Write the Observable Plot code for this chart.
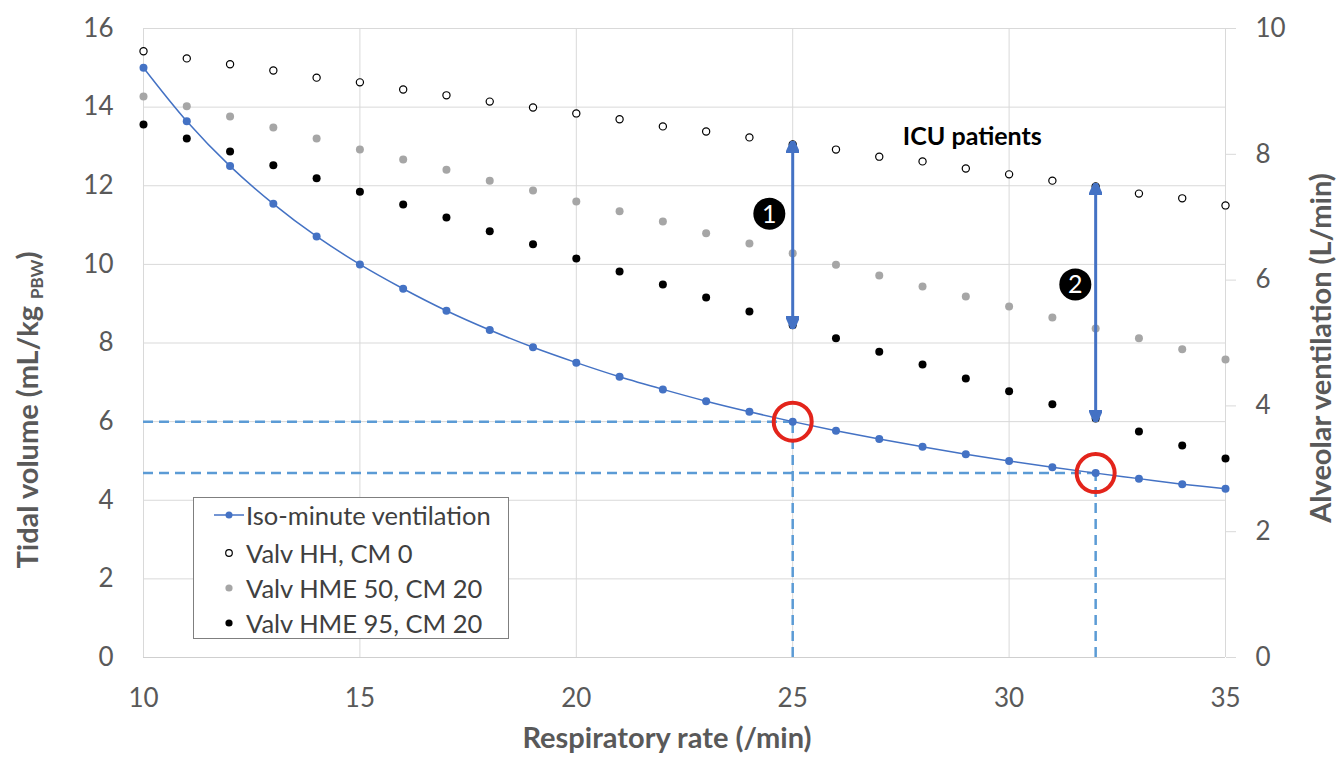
<!DOCTYPE html>
<html>
<head>
<meta charset="utf-8">
<script src="https://cdn.jsdelivr.net/npm/d3@7"></script>
<script src="https://cdn.jsdelivr.net/npm/@observablehq/plot@0.6"></script>
<style>
  body { margin: 0; background: #fff; font-family: Lato, sans-serif; }
  #wrap { position: relative; width: 1339px; height: 761px; }
  #legend { position: absolute; left: 193px; top: 497px; width: 316px; height: 142px;
            border: 1px solid #7f7f7f; background: #fff; box-sizing: border-box; }
  .row { position: absolute; left: 0; height: 30px; display: flex; align-items: center;
         font-size: 25.5px; color: #404040; white-space: nowrap; }
  .row svg { width: 52px; height: 30px; flex: none; }
</style>
</head>
<body>
<div id="wrap">
  <div id="legend"></div>
</div>
<script>
// ---- data ----
const respiratoryRate = [10,11,12,13,14,15,16,17,18,19,20,21,22,23,24,25,26,27,28,29,30,31,32,33,34,35];
const isoMinute = [15.00,13.64,12.50,11.54,10.71,10.00,9.38,8.82,8.33,7.89,7.50,7.14,6.82,6.52,6.25,6.00,5.77,5.56,5.36,5.17,5.00,4.84,4.69,4.55,4.41,4.29];
const valvHH = [15.42,15.24,15.09,14.93,14.75,14.63,14.45,14.30,14.14,13.99,13.84,13.69,13.51,13.38,13.23,13.05,12.92,12.74,12.62,12.44,12.29,12.13,11.98,11.80,11.68,11.50];
const valvHME50 = [14.27,14.02,13.76,13.48,13.20,12.92,12.67,12.41,12.13,11.88,11.60,11.35,11.09,10.79,10.53,10.28,9.99,9.72,9.44,9.18,8.93,8.65,8.37,8.12,7.84,7.58];
const valvHME95 = [13.56,13.20,12.87,12.52,12.19,11.85,11.52,11.19,10.84,10.51,10.15,9.82,9.49,9.16,8.80,8.45,8.12,7.78,7.45,7.10,6.77,6.44,6.08,5.75,5.39,5.06];
const seriesNames = ["Iso-minute ventilation", "Valv HH, CM 0", "Valv HME 50, CM 20", "Valv HME 95, CM 20"];
const xTicks = [10,15,20,25,30,35];
const yTicks = [0,2,4,6,8,10,12,14,16];
const rightTicks = [0,2,4,6,8,10];
const highlightedRates = [25, 32];
const annotationLabels = ["1", "2"];
const noteText = "ICU patients";

// ---- derived tables ----
const ratio = 16 / 10; // left axis max / right axis max
const mk = (vals) => respiratoryRate.map((rr, i) => ({rr, vt: vals[i]}));
const iso = mk(isoMinute), hh = mk(valvHH), h50 = mk(valvHME50), h95 = mk(valvHME95);
const circled = highlightedRates.map(r => { const i = respiratoryRate.indexOf(r); return {rr: r, vt: isoMinute[i]}; });
const arrows = highlightedRates.map(r => { const i = respiratoryRate.indexOf(r); return {rr: r, top: valvHH[i], bottom: valvHME95[i]}; });
const badges = [
  {label: annotationLabels[0], rr: 24.46, vt: 11.29},
  {label: annotationLabels[1], rr: 31.53, vt: 9.49}
];

const blue = "#4472c4", dashBlue = "#5b9bd5", grid = "#d9d9d9", tickGray = "#595959";

function arrowHead(color) {
  const ns = "http://www.w3.org/2000/svg";
  const m = document.createElementNS(ns, "marker");
  m.setAttribute("viewBox", "-10 -5 10 10");
  m.setAttribute("markerWidth", 4.2);
  m.setAttribute("markerHeight", 4.2);
  m.setAttribute("refX", -3);
  m.setAttribute("refY", 0);
  m.setAttribute("orient", "auto-start-reverse");
  const p = document.createElementNS(ns, "path");
  p.setAttribute("d", "M-10,-4.5L0,0L-10,4.5Z");
  p.setAttribute("fill", color);
  m.appendChild(p);
  return m;
}

const plot = Plot.plot({
  width: 1339, height: 761,
  marginLeft: 143, marginRight: 114, marginTop: 28, marginBottom: 104,
  x: {domain: [10, 35]},
  y: {domain: [0, 16]},
  style: {fontFamily: "Lato, sans-serif", background: "white", overflow: "visible"},
  marks: [
    Plot.gridX(xTicks, {stroke: grid, strokeOpacity: 1}),
    Plot.gridY(yTicks, {stroke: grid, strokeOpacity: 1}),
    Plot.ruleY([0], {stroke: "#cfcfcf"}),
    Plot.axisX(xTicks, {tickSize: 0, tickPadding: 31, fontSize: 26, fill: tickGray, label: null}),
    Plot.axisY(yTicks, {anchor: "left", tickSize: 0, tickPadding: 30, fontSize: 26, fill: tickGray, label: null}),
    Plot.axisY(rightTicks.map(v => v * ratio), {anchor: "right", tickSize: 10, tickPadding: 20, stroke: grid,
      fill: tickGray, fontSize: 26, label: null, tickFormat: d => String(Math.round(d / ratio))}),
    // dashed guides
    Plot.ruleY(circled, {y: "vt", x1: 10, x2: "rr", stroke: dashBlue, strokeWidth: 2.5, strokeDasharray: "10,6"}),
    Plot.ruleX(circled, {x: "rr", y1: 0, y2: "vt", stroke: dashBlue, strokeWidth: 2.5, strokeDasharray: "10,6"}),
    // series
    Plot.line(iso, {x: "rr", y: "vt", stroke: blue, strokeWidth: 1.5, curve: "catmull-rom"}),
    Plot.dot(hh, {x: "rr", y: "vt", r: 3.6, fill: "white", stroke: "black", strokeWidth: 1.2}),
    Plot.dot(h50, {x: "rr", y: "vt", r: 4, fill: "#a6a6a6"}),
    Plot.dot(h95, {x: "rr", y: "vt", r: 4, fill: "black"}),
    Plot.dot(iso, {x: "rr", y: "vt", r: 4, fill: blue}),
    // annotations
    Plot.dot(circled, {x: "rr", y: "vt", r: 19, fill: "none", stroke: "#e3241b", strokeWidth: 4}),
    Plot.link(arrows, {x1: "rr", x2: "rr", y1: "bottom", y2: "top", stroke: blue, strokeWidth: 3,
      markerStart: arrowHead, markerEnd: arrowHead}),
    Plot.dot(badges, {x: "rr", y: "vt", r: 16, fill: "black"}),
    Plot.text(badges, {x: "rr", y: "vt", text: "label", fill: "white", fontSize: 25, dy: 1}),
    Plot.text([noteText], {x: 29.15, y: 13.23, text: d => d, fontSize: 25, fontWeight: "bold", fill: "black"})
  ]
});

// axis titles
const svg = d3.select(plot);
const left = svg.append("text")
  .attr("transform", "translate(38,410) rotate(-90)")
  .attr("text-anchor", "middle")
  .attr("font-family", "Lato, sans-serif").attr("font-weight", "bold").attr("font-size", 29).attr("fill", tickGray);
left.append("tspan").text("Tidal volume (mL/kg ");
left.append("tspan").attr("font-size", 17).attr("dy", 5).text("PBW");
left.append("tspan").attr("dy", -5).text(")");

svg.append("text")
  .attr("transform", "translate(1331,348) rotate(-90)")
  .attr("text-anchor", "middle")
  .attr("font-family", "Lato, sans-serif").attr("font-weight", "bold").attr("font-size", 29).attr("fill", tickGray)
  .text("Alveolar ventilation (L/min)");

svg.append("text")
  .attr("x", 667).attr("y", 748)
  .attr("text-anchor", "middle")
  .attr("font-family", "Lato, sans-serif").attr("font-weight", "bold").attr("font-size", 29).attr("fill", tickGray)
  .text("Respiratory rate (/min)");

document.getElementById("wrap").prepend(plot);

// legend
const legend = document.getElementById("legend");
const rowCenters = [17, 55, 90, 125];
const symbols = [
  `<line x1="20" y1="15" x2="50" y2="15" stroke="${blue}" stroke-width="1.5"/><circle cx="35" cy="15" r="3.5" fill="${blue}"/>`,
  `<circle cx="35" cy="15" r="3.3" fill="white" stroke="black" stroke-width="1.2"/>`,
  `<circle cx="35" cy="15" r="3.6" fill="#a6a6a6"/>`,
  `<circle cx="35" cy="15" r="3.6" fill="black"/>`
];
seriesNames.forEach((name, i) => {
  const row = document.createElement("div");
  row.className = "row";
  row.style.top = (rowCenters[i] - 15) + "px";
  row.innerHTML = `<svg viewBox="0 0 52 30">${symbols[i]}</svg><span>${name}</span>`;
  legend.appendChild(row);
});
document.getElementById("wrap").appendChild(legend);
</script>
</body>
</html>
